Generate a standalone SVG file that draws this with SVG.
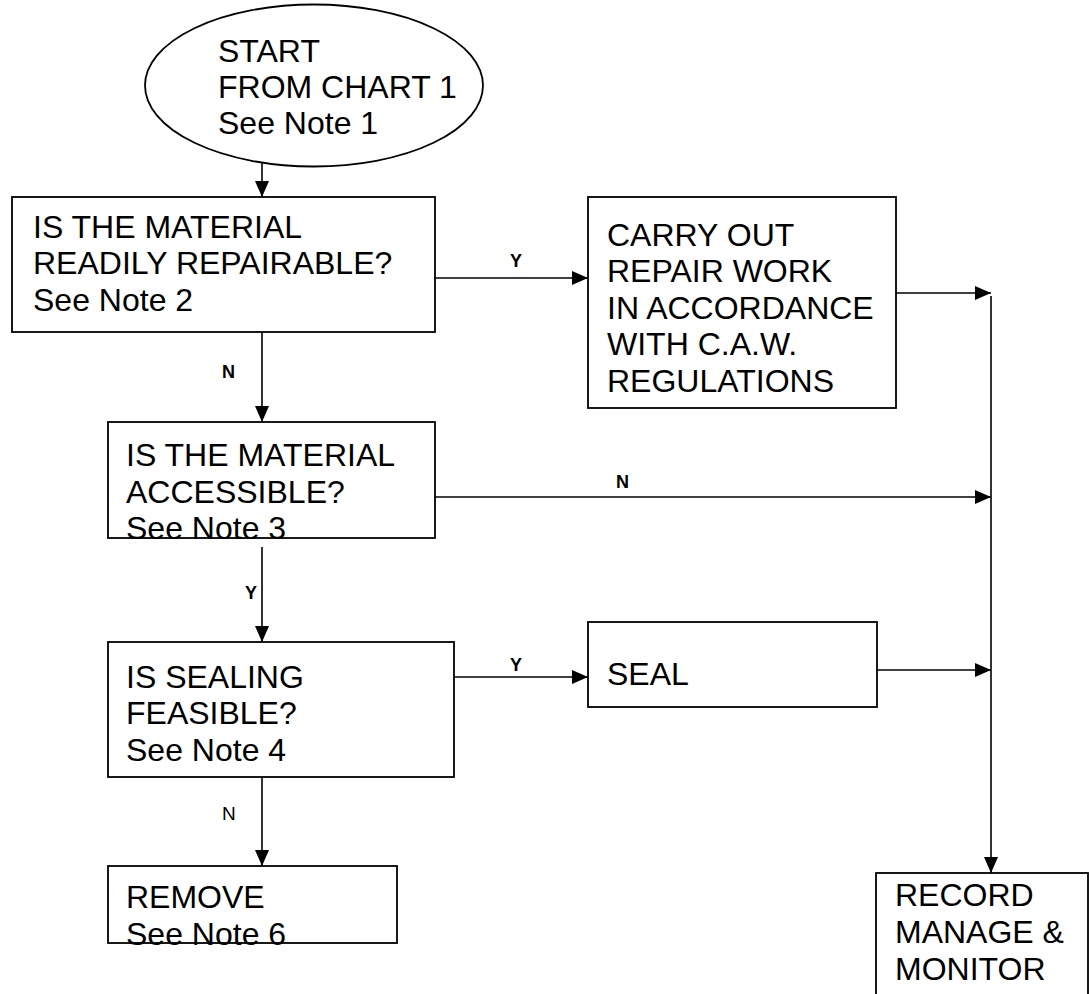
<svg xmlns="http://www.w3.org/2000/svg" width="1089" height="994" viewBox="0 0 1089 994">
<defs>
<style>
.box{fill:#fff;stroke:#000;stroke-width:1.8}
.t{font-family:"Liberation Sans",Arial,sans-serif;font-size:32px;fill:#000}
.lb{font-family:"Liberation Sans",Arial,sans-serif;font-size:18px;font-weight:bold;fill:#000}
.lr{font-family:"Liberation Sans",Arial,sans-serif;font-size:19px;fill:#000}
.c{fill:none;stroke:#000;stroke-width:1.6}
</style>
<marker id="ah" viewBox="0 0 16 14" refX="16" refY="7" markerWidth="16" markerHeight="14" markerUnits="userSpaceOnUse" orient="auto">
<path d="M0,0 L16,7 L0,14 Z" fill="#000"/>
</marker>
</defs>
<rect width="1089" height="994" fill="#fff"/>
<g id="connectors">
<line class="c" x1="262" y1="162" x2="262" y2="197" marker-end="url(#ah)"/>
<line class="c" x1="435" y1="278" x2="588" y2="278" marker-end="url(#ah)"/>
<line class="c" x1="896" y1="293" x2="991" y2="293" marker-end="url(#ah)"/>
<line class="c" x1="262" y1="332" x2="262" y2="422" marker-end="url(#ah)"/>
<line class="c" x1="435" y1="497" x2="991" y2="497" marker-end="url(#ah)"/>
<line class="c" x1="262" y1="547" x2="262" y2="642" marker-end="url(#ah)"/>
<line class="c" x1="454" y1="677" x2="588" y2="677" marker-end="url(#ah)"/>
<line class="c" x1="877" y1="670" x2="991" y2="670" marker-end="url(#ah)"/>
<line class="c" x1="262" y1="777" x2="262" y2="866" marker-end="url(#ah)"/>
<line class="c" x1="991" y1="296" x2="991" y2="873" marker-end="url(#ah)"/>
<text class="lb" x="510" y="267">Y</text>
<text class="lb" x="222" y="378">N</text>
<text class="lb" x="616" y="488">N</text>
<text class="lb" x="245" y="599">Y</text>
<text class="lb" x="510" y="671">Y</text>
<text class="lr" x="222" y="820">N</text>
</g>
<g id="start">
<ellipse class="box" cx="314" cy="85.5" rx="169" ry="81"/>
<text class="t" x="218" y="62">START</text>
<text class="t" x="218" y="98">FROM CHART 1</text>
<text class="t" x="218" y="134">See Note 1</text>
</g>
<g id="repairable">
<rect class="box" x="12" y="197" width="423" height="135"/>
<text class="t" x="33" y="238">IS THE MATERIAL</text>
<text class="t" x="33" y="274">READILY REPAIRABLE?</text>
<text class="t" x="33" y="311">See Note 2</text>
</g>
<g id="repair">
<rect class="box" x="588" y="197" width="308" height="211"/>
<text class="t" x="607" y="246">CARRY OUT</text>
<text class="t" x="607" y="282">REPAIR WORK</text>
<text class="t" x="607" y="319">IN ACCORDANCE</text>
<text class="t" x="607" y="355">WITH C.A.W.</text>
<text class="t" x="607" y="392">REGULATIONS</text>
</g>
<g id="accessible">
<rect class="box" x="108" y="422" width="327" height="116"/>
<text class="t" x="126" y="466">IS THE MATERIAL</text>
<text class="t" x="126" y="503">ACCESSIBLE?</text>
<text class="t" x="126" y="539">See Note 3</text>
</g>
<g id="sealing">
<rect class="box" x="108" y="642" width="346" height="135"/>
<text class="t" x="126" y="688">IS SEALING</text>
<text class="t" x="126" y="724">FEASIBLE?</text>
<text class="t" x="126" y="761">See Note 4</text>
</g>
<g id="seal">
<rect class="box" x="588" y="622" width="289" height="85"/>
<text class="t" x="607" y="685">SEAL</text>
</g>
<g id="remove">
<rect class="box" x="108" y="866" width="289" height="77"/>
<text class="t" x="126" y="908">REMOVE</text>
<text class="t" x="126" y="945">See Note 6</text>
</g>
<g id="record">
<rect class="box" x="876" y="873" width="212" height="130"/>
<text class="t" x="895" y="906">RECORD</text>
<text class="t" x="895" y="943">MANAGE &amp;</text>
<text class="t" x="895" y="980">MONITOR</text>
</g>
</svg>
